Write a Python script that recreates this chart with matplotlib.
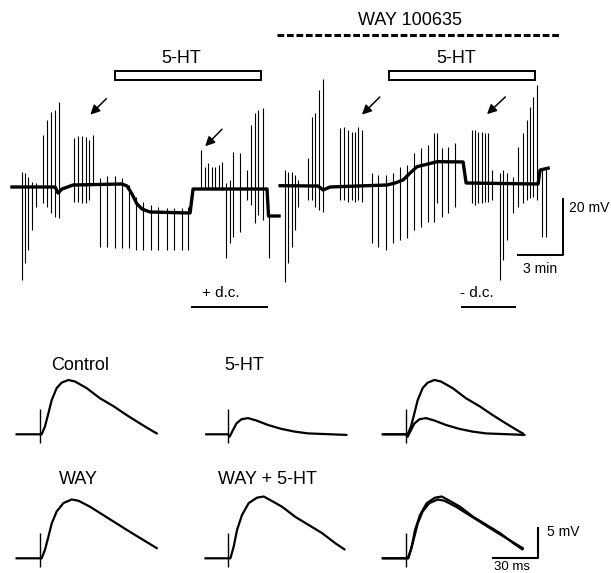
import matplotlib
matplotlib.use('Agg')
import matplotlib.pyplot as plt

plt.rcParams['font.family'] = ['Liberation Sans', 'DejaVu Sans']

# ---------------- top: slow membrane recording ----------------
# time in min from start of each sweep, potential in mV relative to rest

# before WAY 100635
left_base_t = [0, 2.87, 3.07, 3.33, 4.07, 7.33, 7.67, 8.0, 8.33, 8.67, 9.2, 11.87, 12.07, 17.0, 17.1, 17.8]
left_base_v = [0.36, 0.36, -1.79, -0.36, 1.07, 1.43, 0.71, -2.14, -5.71, -7.5, -8.57, -8.93, -0.36, -0.36, -10, -10]

left_spk_t = [0.65, 0.87, 1.09, 1.35, 1.6, 2.09, 2.35, 2.6, 2.87, 3.13,
              4.13, 4.38, 4.65, 4.93, 5.15, 5.42,
              5.87, 6.35, 6.87, 7.31, 7.82, 8.27, 8.75, 9.25, 9.75, 10.31, 10.8, 11.31, 11.75,
              12.6, 12.87, 13.09, 13.31, 13.53, 13.8, 13.98,
              14.25, 14.53, 14.75, 15.2, 15.65, 15.91, 16.2, 16.42, 16.75, 17.15]
left_spk_top = [5.8, 5.4, 4.0, 2.3, 1.8, 18.9, 24.3, 27.3, 27.9, 30.7,
                17.9, 18.6, 18.6, 18.3, 17.1, 18.9,
                3.6, 4.3, 4.3, 3.6, 1.1, -3.1, -4.9, -6.1, -6.7, -7.1, -7.1, -7.1, -6.7,
                13.6, 7.6, 8.9, 7.6, 7.6, 8.2, 9.4,
                1.8, 2.9, 13.0, 12.5, 6.4, 22.5, 26.8, 27.9, 28.6, -10]
left_spk_bot = [-32.9, -26.8, -22.1, -15.0, -6.7, -5.4, -6.8, -8.9, -10.3, -10.7,
                -4.9, -4.9, -5.25, -5.4, -4.3, 1.0,
                -21.0, -21.0, -21.4, -21.4, -21.4, -22.1, -22.1, -22.1, -22.1, -22.1, -22.1, -22.1, -22.1,
                0, 0, 0, 0, 0, 0, -0.7,
                -25, -19.6, -17.4, -15.6, -4.3, -6.1, -12.5, -9.6, -11.4, -25]

# in WAY 100635
right_base_t = [0, 2.53, 2.87, 3.33, 3.8, 7.13, 7.67, 8.2, 8.67, 9.13, 10.47, 12.2, 12.4, 17.2, 17.33, 17.87]
right_base_v = [0.82, 0.71, -0.71, 0.36, 0.46, 1.07, 1.79, 2.86, 5.36, 7.6, 9.4, 9.3, 1.79, 1.43, 6.4, 7.1]

right_spk_t = [0.33, 0.55, 0.78, 1.0, 1.22, 1.89, 2.11, 2.33, 2.62, 2.89,
               4.0, 4.27, 4.51, 4.78, 5.0, 5.22, 5.45,
               6.11, 6.55, 7.07, 7.55, 8.0, 8.45, 8.93, 9.38, 9.89, 10.29, 10.45, 10.78, 11.22, 11.67,
               12.78, 13.0, 13.22, 13.45, 13.67, 13.89, 14.11,
               14.67, 14.89, 15.11, 15.55, 15.89, 16.22, 16.45, 16.67, 16.89, 17.11, 17.45, 17.73]
right_spk_top = [6.4, 5.8, 5.8, 4.6, 2.9, 10.6, 25.5, 26.7, 35.0, 38.9,
                 21.3, 21.9, 20.7, 20.1, 20.1, 21.9, 20.7,
                 5.25, 4.6, 4.6, 5.25, 7.6, 8.2, 12.4, 14.2, 15.4, 19.5, 19.5, 14.2, 14.75, 16.0,
                 20.7, 20.7, 20.1, 20.1, 19.5, 19.5, 6.4,
                 5.25, 6.4, 5.25, 4.0, 14.75, 19.5, 24.3, 29.0, 32.6, 36.8, 7.1, 7.1]
right_spk_bot = [-33.5, -26.9, -21.0, -15.0, -6.7, -4.3, -4.3, -6.7, -7.9, -8.5,
                 -4.3, -4.3, -4.9, -4.3, -4.9, -4.3, -4.9,
                 -19.75, -21.0, -22.1, -19.75, -18.6, -18.0, -15.0, -13.8, -12.0, -12.0, -5.5, -10.25, -9.0, -6.7,
                 -5.5, -6.1, -5.5, -5.5, -4.9, -4.9, -4.3,
                 -32.9, -25.7, -18.6, -9.0, -6.7, -5.5, -4.3, -3.7, -3.1, -4.3, -17.4, -17.4]

# drug / current periods (min, on the page time axis)
ht_left = (6.87, 16.6)
ht_right = (25.13, 34.87)
way_period = (17.67, 36.6)
dc_plus = (11.98, 16.98)
dc_minus = (30.0, 33.53)

RIGHT_START = 17.87  # where second sweep starts on the time axis

# ---------------- bottom: evoked EPSPs (ms, mV) ----------------
control_t = [-15.6, 0, 1.1, 3.3, 5.6, 7.8, 11.1, 14.4, 18.9, 23.3, 31.1, 40, 48.9, 57.8, 66.7, 73.3, 77.8]
control_v = [0, 0, 0, 1.3, 3.5, 5.7, 7.7, 8.6, 9.05, 8.8, 7.7, 6.0, 4.7, 3.2, 1.8, 0.8, 0.15]

ht_t = [-14.5, 0, 1.1, 3.3, 5.6, 8.9, 13.3, 18.9, 26.7, 35.6, 44.4, 53.3, 78.9]
ht_v = [0, 0, -0.4, 0.7, 1.8, 2.5, 2.7, 2.3, 1.55, 0.9, 0.45, 0.15, -0.1]

way_t = [-15.6, 0, 1.1, 3.3, 5.6, 7.8, 11.1, 15.6, 21.1, 25.6, 33.3, 42.2, 51.1, 60, 68.9, 77.8]
way_v = [0, 0, 0, 1.4, 3.6, 5.8, 7.8, 9.2, 9.8, 9.6, 8.6, 7.2, 5.8, 4.4, 3.05, 1.7]

wayht_t = [-15, 0, 1.6, 3.8, 6.0, 9.3, 13.8, 19.3, 23.8, 28.2, 36.0, 44.9, 53.8, 62.7, 71.6, 77.6]
wayht_v = [0, 0, 0, 1.95, 4.7, 7.2, 9.2, 10.1, 10.3, 9.7, 8.6, 6.9, 5.55, 4.2, 2.5, 1.5]

stim_top, stim_bot = 4.2, -1.4

W, H = 611, 573
fig = plt.figure(figsize=(W / 100, H / 100), dpi=100)

# top axes: x in min, y in mV
ax = fig.add_axes([0, 253 / H, 1, 320 / H])
ax.set_xlim(-0.8, 39.93)
ax.set_ylim(-47.14, 67.14)
ax.axis('off')

ax.plot(left_base_t, left_base_v, color='black', lw=2.4, solid_joinstyle='round')
ax.vlines(left_spk_t, left_spk_bot, left_spk_top, color='black', lw=0.8)
ax.plot([t + RIGHT_START for t in right_base_t], right_base_v, color='black', lw=2.4,
        solid_joinstyle='round')
ax.vlines([t + RIGHT_START for t in right_spk_t], right_spk_bot, right_spk_top, color='black', lw=0.8)

# 5-HT bars
for (a, b), lbl_x in [(ht_left, 11.31), (ht_right, 29.6)]:
    ax.add_patch(plt.Rectangle((a, 38.6), b - a, 3.3, facecolor='white', edgecolor='black', lw=1.4))
    ax.text(lbl_x, 46.3, '5-HT', ha='center', va='center', fontsize=13)

# WAY dashed line
ax.plot(way_period, [54.6, 54.6], color='black', lw=2.2, linestyle=(0, (2.2, 0.9)))
ax.text(26.5, 59.8, 'WAY 100635', ha='center', va='center', fontsize=13)

# arrows
for (x0, y0, x1, y1) in [(6.42, 32.6, 5.09, 25.5), (14.13, 21.7, 12.75, 14.2),
                         (24.65, 33.2, 23.2, 25.5), (33.02, 33.2, 31.53, 25.7)]:
    ax.annotate('', xy=(x1, y1), xytext=(x0, y0),
                arrowprops=dict(arrowstyle='-|>', color='black', lw=1.1, mutation_scale=14))

# d.c. bars
ax.plot(dc_plus, [-42.4, -42.4], color='black', lw=1.4)
ax.text(13.9, -37.6, '+ d.c.', ha='center', va='center', fontsize=11)
ax.plot(dc_minus, [-42.4, -42.4], color='black', lw=1.4)
ax.text(30.98, -37.6, '- d.c.', ha='center', va='center', fontsize=11)

# scale bar 20 mV / 3 min
ax.plot([33.73, 36.73, 36.73], [-24, -24, -4], color='black', lw=1.4)
ax.text(37.13, -7.1, '20 mV', ha='left', va='center', fontsize=10)
ax.text(35.2, -28.8, '3 min', ha='center', va='center', fontsize=10)


# bottom EPSP panels: 1.5 px per ms, 6 px per mV
def epsp_axes(stim_px, base_px):
    a = fig.add_axes([(stim_px - 30) / W, (H - base_px - 30) / H, 180 / W, 120 / H])
    a.set_xlim(-20, 100)
    a.set_ylim(-5, 15)
    a.axis('off')
    a.vlines(0, stim_bot, stim_top, color='black', lw=1.0)
    return a


panels = [
    (40, 434.3, [(control_t, control_v)], 'Control', (26.7, 11.4)),
    (228, 434.3, [(ht_t, ht_v)], '5-HT', (10.5, 11.55)),
    (406, 434.3, [(control_t, control_v), (ht_t, ht_v)], None, None),
    (40, 558.3, [(way_t, way_v)], 'WAY', (25.5, 13.05)),
    (228, 558.3, [(wayht_t, wayht_v)], 'WAY + 5-HT', (26.1, 13.05)),
    (406, 558.3, [(way_t, way_v), (wayht_t, wayht_v)], None, None),
]

for stim_px, base_px, traces, label, pos in panels:
    a = epsp_axes(stim_px, base_px)
    for t, v in traces:
        a.plot(t, v, color='black', lw=1.6, solid_joinstyle='round')
    if label:
        a.text(pos[0], pos[1], label, ha='center', va='center', fontsize=13)
    last = a

# scale bar 5 mV / 30 ms on last panel
last.plot([58.2, 88.2, 88.2], [0, 0, 5], color='black', lw=1.5)
last.text(93.8, 4.4, '5 mV', ha='left', va='center', fontsize=10)
last.text(70.5, -2.45, '30 ms', ha='center', va='bottom', fontsize=9.5)

fig.savefig('out.png', dpi=100)
